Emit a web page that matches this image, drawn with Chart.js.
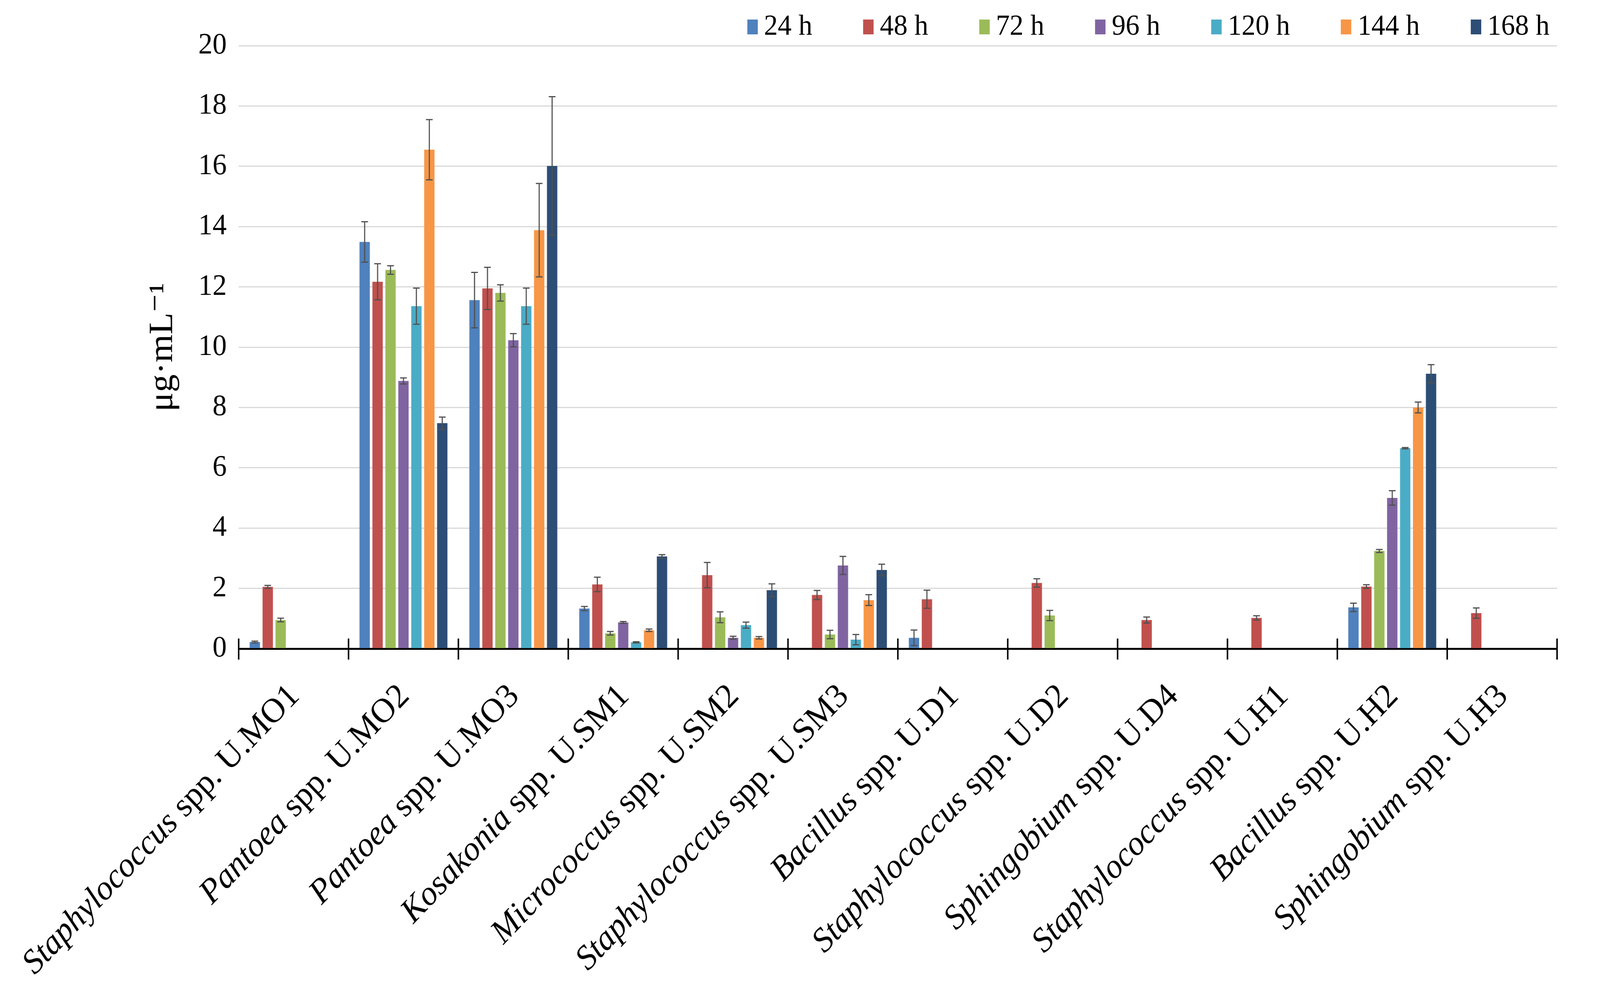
<!DOCTYPE html>
<html>
<head>
<meta charset="utf-8">
<script src="https://cdn.jsdelivr.net/npm/chart.js@4.4.1/dist/chart.umd.min.js"></script>
<style>
    html, body { margin: 0; padding: 0; background: #ffffff; overflow: hidden; }
    #wrap { position: absolute; left: 0; top: 0; width: 4284px; height: 2512px; transform-origin: 0 0; }
    #chart { position: absolute; left: 0; top: 0; width: 4284px; height: 2512px; }
    #legend {
        position: absolute; top: 27px; right: 135px;
        display: flex; align-items: center;
        font-family: 'Liberation Serif', 'DejaVu Serif', serif;
        font-size: 74px; line-height: 74px; color: #000;
    }
    .item { display: flex; align-items: center; margin-left: 136px; white-space: nowrap; }
    .item:first-child { margin-left: 0; }
    .swatch { display: inline-block; width: 28px; height: 38px; margin-right: 17px; transform: translateY(5px); }
</style>
</head>
<body>
<div id="wrap">
    <canvas id="chart" width="4284" height="2512"></canvas>
    <div id="legend"></div>
</div>
<script>
const genus = ['Staphylococcus', 'Pantoea', 'Pantoea', 'Kosakonia', 'Micrococcus', 'Staphylococcus',
    'Bacillus', 'Staphylococcus', 'Sphingobium', 'Staphylococcus', 'Bacillus', 'Sphingobium'];
const strain = ['U.MO1', 'U.MO2', 'U.MO3', 'U.SM1', 'U.SM2', 'U.SM3',
    'U.D1', 'U.D2', 'U.D4', 'U.H1', 'U.H2', 'U.H3'];
const categories = genus.map((g, i) => g + ' spp. ' + strain[i]);

const seriesNames = ['24 h', '48 h', '72 h', '96 h', '120 h', '144 h', '168 h'];
const seriesColors = ['#4F81BD', '#C0504D', '#9BBB59', '#8064A2', '#4BACC6', '#F79646', '#2C4D75'];

// mean values, µg/mL (null = not measured)
const h24  = [0.22, 13.49, 11.56, 1.33, null, null, 0.36, null, null, null, 1.37, null];
const h48  = [2.05, 12.17, 11.95, 2.13, 2.44, 1.78, 1.64, 2.18, 0.95, 1.02, 2.06, 1.18];
const h72  = [0.95, 12.56, 11.80, 0.51, 1.04, 0.47, null, 1.10, null, null, 3.24, null];
const h96  = [null, 8.88, 10.23, 0.87, 0.36, 2.76, null, null, null, null, 5.00, null];
const h120 = [null, 11.36, 11.36, 0.21, 0.78, 0.30, null, null, null, null, 6.65, null];
const h144 = [null, 16.55, 13.88, 0.61, 0.36, 1.61, null, null, null, null, 8.00, null];
const h168 = [null, 7.48, 16.01, 3.06, 1.94, 2.61, null, null, null, null, 9.12, null];

// standard deviations (error bars)
const e24  = [0.03, 0.67, 0.92, 0.07, null, null, 0.26, null, null, null, 0.14, null];
const e48  = [0.05, 0.60, 0.70, 0.24, 0.42, 0.15, 0.30, 0.14, 0.10, 0.07, 0.06, 0.17];
const e72  = [0.06, 0.14, 0.27, 0.06, 0.18, 0.14, null, 0.17, null, null, 0.05, null];
const e96  = [null, 0.10, 0.22, 0.03, 0.05, 0.30, null, null, null, null, 0.24, null];
const e120 = [null, 0.60, 0.60, 0.02, 0.10, 0.17, null, null, null, null, 0.02, null];
const e144 = [null, 1.00, 1.55, 0.04, 0.04, 0.18, null, null, null, null, 0.18, null];
const e168 = [null, 0.20, 2.30, 0.06, 0.21, 0.19, null, null, null, null, 0.30, null];

const yTicks = [0, 2, 4, 6, 8, 10, 12, 14, 16, 18, 20];

const seriesValues = [h24, h48, h72, h96, h120, h144, h168];
const seriesErrors = [e24, e48, e72, e96, e120, e144, e168];

const FONT = "'Liberation Serif', 'DejaVu Serif', serif";

/* --- error bars --- */
const errorBarPlugin = {
    id: 'errorBars',
    afterDatasetsDraw(chart) {
        const ctx = chart.ctx;
        const y = chart.scales.y;
        ctx.save();
        ctx.strokeStyle = '#505050';
        ctx.lineWidth = 3;
        seriesErrors.forEach((errs, d) => {
            const meta = chart.getDatasetMeta(d);
            errs.forEach((e, i) => {
                const v = seriesValues[d][i];
                if (v === null || e === null) return;
                const bar = meta.data[i];
                const top = y.getPixelForValue(v + e);
                const bot = y.getPixelForValue(Math.max(v - e, 0));
                const cap = 9;
                ctx.beginPath();
                ctx.moveTo(bar.x, top); ctx.lineTo(bar.x, bot);
                ctx.moveTo(bar.x - cap, top); ctx.lineTo(bar.x + cap, top);
                ctx.moveTo(bar.x - cap, bot); ctx.lineTo(bar.x + cap, bot);
                ctx.stroke();
            });
        });
        ctx.restore();
    }
};

/* --- category axis: crossing tick marks + rotated labels (italic genus) --- */
const categoryAxisPlugin = {
    id: 'categoryAxis',
    afterDraw(chart) {
        const ctx = chart.ctx;
        const xs = chart.scales.x;
        const y0 = chart.scales.y.getPixelForValue(0);
        const n = categories.length;
        const step = (xs.right - xs.left) / n;

        ctx.save();
        ctx.strokeStyle = '#000';
        ctx.lineWidth = 4;
        ctx.beginPath();
        for (let i = 0; i <= n; i++) {
            const bx = xs.left + i * step;
            ctx.moveTo(bx, y0 - 26);
            ctx.lineTo(bx, y0 + 28);
        }
        ctx.stroke();

        ctx.fillStyle = '#000';
        ctx.textAlign = 'right';
        ctx.textBaseline = 'alphabetic';
        genus.forEach((g, i) => {
            const cx = xs.getPixelForValue(i);
            ctx.save();
            ctx.translate(cx + 19, y0 + 125);
            ctx.rotate(-Math.PI / 4);
            const rest = ' spp. ' + strain[i];
            ctx.font = '88px ' + FONT;
            const w = ctx.measureText(rest).width;
            ctx.fillText(rest, 0, 0);
            ctx.font = 'italic 88px ' + FONT;
            ctx.fillText(g, -w, 0);
            ctx.restore();
        });
        ctx.restore();
    }
};

function buildLegend() {
    const box = document.getElementById('legend');
    seriesNames.forEach((name, i) => {
        const item = document.createElement('div');
        item.className = 'item';
        item.innerHTML = '<span class="swatch" style="background:' + seriesColors[i] + '"></span><span>' + name + '</span>';
        box.appendChild(item);
    });
}

// fit the 4284x2512 drawing into whatever viewport we actually get
function fitToWindow() {
    const sx = window.innerWidth / 4284;
    const sy = window.innerHeight / 2512;
    document.getElementById('wrap').style.transform = 'scale(' + sx + ',' + sy + ')';
    return Math.max(sx, sy);
}

window.onload = function () {
    const s = fitToWindow();
    buildLegend();
    const ctx = document.getElementById('chart').getContext('2d');

    new Chart(ctx, {
        type: 'bar',
        data: {
            labels: categories,
            datasets: seriesNames.map((name, i) => ({
                label: name,
                data: seriesValues[i],
                backgroundColor: seriesColors[i],
                borderWidth: 0,
                categoryPercentage: 0.824,
                barPercentage: 0.8
            }))
        },
        options: {
            responsive: false,
            devicePixelRatio: (window.devicePixelRatio || 1) * s,
            animation: false,
            layout: { padding: { top: 117, right: 115, bottom: 851, left: 0 } },
            plugins: {
                legend: { display: false },
                tooltip: { enabled: false }
            },
            scales: {
                x: {
                    ticks: { display: false },
                    grid: { display: true, drawOnChartArea: false, drawTicks: false },
                    border: { display: true, color: '#000', width: 5 }
                },
                y: {
                    min: 0,
                    max: 20,
                    afterBuildTicks: sc => { sc.ticks = yTicks.map(v => ({ value: v })); },
                    afterFit: sc => { sc.width = 639; },
                    ticks: {
                        color: '#000',
                        padding: 32,
                        font: { family: FONT, size: 76 }
                    },
                    grid: { color: '#d9d9d9', lineWidth: 3, drawTicks: false },
                    border: { display: false },
                    title: {
                        display: true,
                        text: 'μg·mL⁻¹',
                        color: '#000',
                        font: { family: FONT, size: 92 },
                        padding: { top: 382, bottom: 0 }
                    }
                }
            }
        },
        plugins: [errorBarPlugin, categoryAxisPlugin]
    });
};
</script>
</body>
</html>
